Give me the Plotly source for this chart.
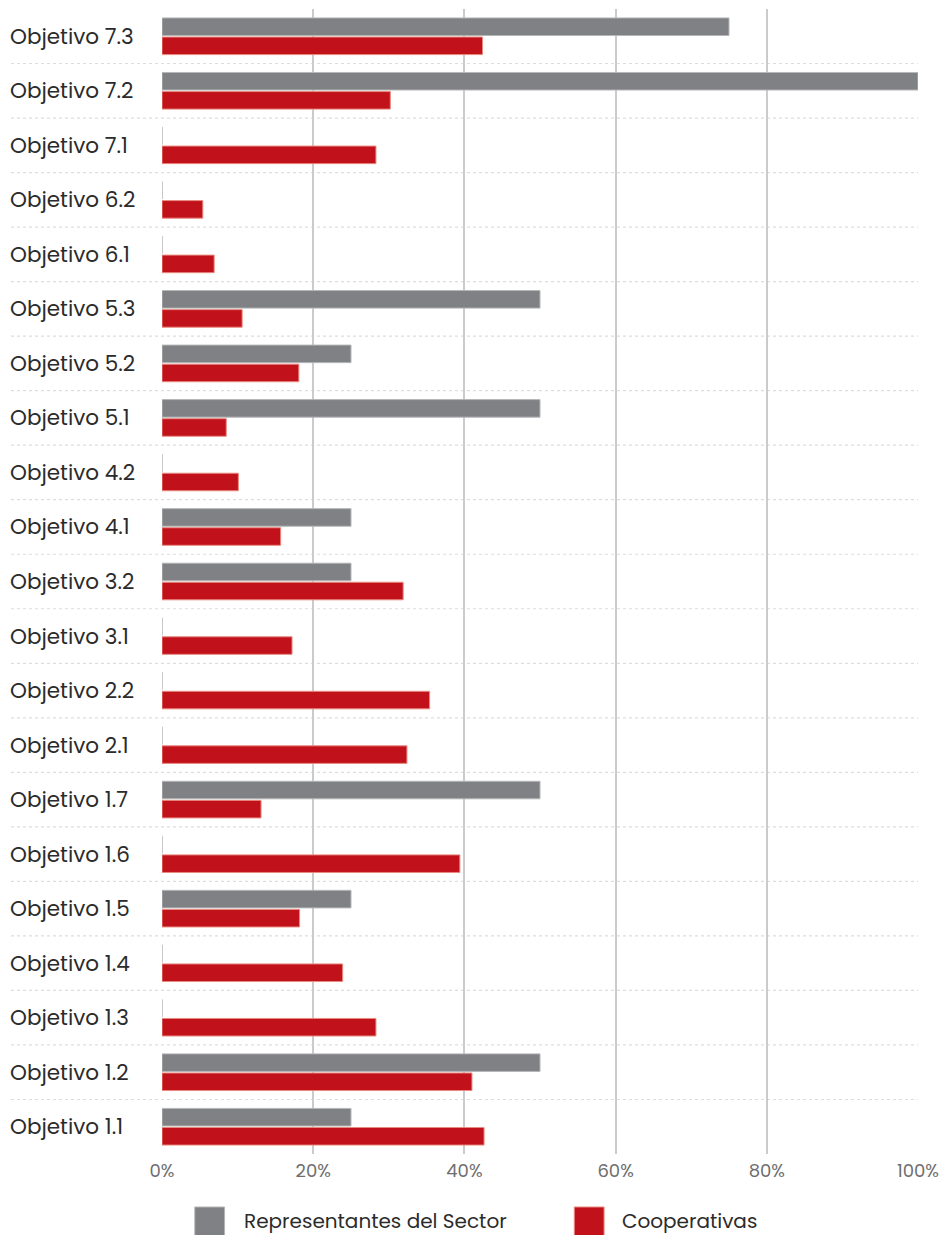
import plotly.graph_objects as go

categories = ["Objetivo 1.1", "Objetivo 1.2", "Objetivo 1.3", "Objetivo 1.4", "Objetivo 1.5",
              "Objetivo 1.6", "Objetivo 1.7", "Objetivo 2.1", "Objetivo 2.2", "Objetivo 3.1",
              "Objetivo 3.2", "Objetivo 4.1", "Objetivo 4.2", "Objetivo 5.1", "Objetivo 5.2",
              "Objetivo 5.3", "Objetivo 6.1", "Objetivo 6.2", "Objetivo 7.1", "Objetivo 7.2",
              "Objetivo 7.3"]
representantes = [25, 50, 0, 0, 25, 0, 50, 0, 0, 0, 25, 25, 0, 50, 25, 50, 0, 0, 0, 100, 75]
cooperativas = [42.6, 41.0, 28.3, 23.9, 18.2, 39.4, 13.1, 32.4, 35.4, 17.2, 31.9, 15.7, 10.1,
                8.5, 18.1, 10.6, 6.9, 5.4, 28.3, 30.2, 42.4]
xticks = [0, 20, 40, 60, 80, 100]
xtick_labels = ["0%", "20%", "40%", "60%", "80%", "100%"]
series_names = ["Representantes del Sector", "Cooperativas"]
colors = ["#808184", "#C1121C"]
edge_colors = ["#B5B6B8", "#E98A80"]

FONT = "Poppins, Inter, Noto Sans, sans-serif"
W, H = 948, 1235
ML, MR, MT, MB = 162, 25, 9, 81

fig = go.Figure()
# Plotly draws later traces higher in a horizontal group -> add red first, then grey
fig.add_trace(go.Bar(y=categories, x=cooperativas, orientation="h", name=series_names[1],
                     marker=dict(color=colors[1], line=dict(color=edge_colors[1], width=1)),
                     showlegend=False))
fig.add_trace(go.Bar(y=categories, x=representantes, orientation="h", name=series_names[0],
                     marker=dict(color=colors[0], line=dict(color=edge_colors[0], width=1)),
                     showlegend=False))

shapes = []
annotations = []
n = len(categories)
pw = W - ML - MR
ph = H - MT - MB
def px_to_paper_x(px):
    return (px - ML) / pw
def px_to_paper_y(py):
    return (H - MB - py) / ph

# dotted separators between categories, extending under the labels
for k in range(n - 1):
    shapes.append(dict(type="line", xref="paper", yref="y", x0=px_to_paper_x(10), x1=1,
                       y0=k + 0.5, y1=k + 0.5,
                       line=dict(color="#DDDDDD", width=1.2, dash="dot"), layer="below"))
# category labels left aligned
for c in categories:
    annotations.append(dict(text=c, xref="paper", yref="y", x=px_to_paper_x(7), y=c,
                            xanchor="left", yanchor="middle", showarrow=False,
                            font=dict(family=FONT, size=21.5, color="#2B2B2B")))

# custom legend
leg_items = [(195, 243), (577, 623)]
for (sx, tx), name, col, ec in zip(leg_items, series_names, colors, edge_colors):
    shapes.append(dict(type="rect", xref="paper", yref="paper",
                       x0=px_to_paper_x(sx), x1=px_to_paper_x(sx + 30),
                       y0=px_to_paper_y(1236), y1=px_to_paper_y(1207),
                       fillcolor=col, line=dict(color=ec, width=1)))
    annotations.append(dict(text=name, xref="paper", yref="paper",
                            x=px_to_paper_x(tx), y=px_to_paper_y(1221),
                            xanchor="left", yanchor="middle", showarrow=False,
                            font=dict(family=FONT, size=20, color="#2B2B2B")))

fig.update_layout(
    width=W, height=H,
    margin=dict(l=ML, r=MR, t=MT, b=MB),
    paper_bgcolor="white", plot_bgcolor="white",
    barmode="group", bargap=0.3, bargroupgap=0.08,
    showlegend=False,
    shapes=shapes, annotations=annotations,
    xaxis=dict(range=[0, 100], tickvals=xticks, ticktext=xtick_labels, showgrid=True,
               gridcolor="#CBCBCD", gridwidth=1.5, zeroline=False, showline=False,
               ticks="", ticklabelstandoff=4,
               tickfont=dict(family=FONT, size=18, color="#6E6E6E")),
    yaxis=dict(categoryorder="array", categoryarray=categories, showticklabels=False,
               showgrid=False, zeroline=False, showline=False, range=[-0.5, n - 0.5]),
)

fig.write_html("out.html", config={"displayModeBar": False},
               post_script="document.body.style.margin='0';document.body.style.overflow='hidden';")
